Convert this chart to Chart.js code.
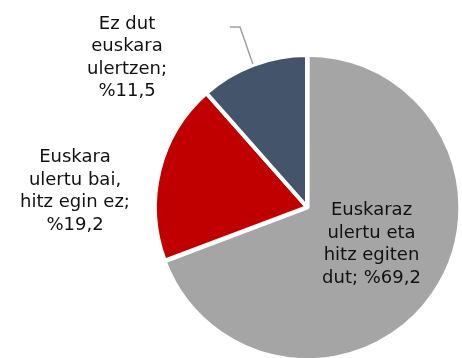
<!DOCTYPE html>
<html>
<head>
<meta charset="utf-8">
<script src="https://cdn.jsdelivr.net/npm/chart.js@4.4.1/dist/chart.umd.min.js"></script>
<style>
    html, body { margin: 0; padding: 0; background: #fff; }
    #wrap { width: 462px; height: 358px; }
</style>
</head>
<body>
<div id="wrap"><canvas id="pieChart" width="462" height="358"></canvas></div>
<script>
// Euskara ulertzeko eta hitz egiteko gaitasuna (%)
const categories = [
    'Euskaraz ulertu eta hitz egiten dut',
    'Euskara ulertu bai, hitz egin ez',
    'Ez dut euskara ulertzen'
];
const shares = [69.2, 19.2, 11.5];
const sliceColors = ['#a5a5a5', '#c00000', '#44546a'];

// where each label block sits, relative to the pie centre (first baseline)
const labelPlaces = [
    { dx: 64.5, dy: 8, maxWidth: 112 },
    { dx: -232, dy: -45, maxWidth: 122 },
    { dx: -180, dy: -178.5, maxWidth: 92 }
];
const lineHeight = 22.5;

function wrapText(ctx, text, maxWidth) {
    const words = text.split(' ');
    const lines = [];
    let line = '';
    words.forEach(w => {
        const test = line ? line + ' ' + w : w;
        if (line && ctx.measureText(test).width > maxWidth) {
            lines.push(line);
            line = w;
        } else {
            line = test;
        }
    });
    if (line) lines.push(line);
    return lines;
}

// Draw the category labels and the leader line of the smallest slice
const sliceLabels = {
    id: 'sliceLabels',
    afterDatasetsDraw(chart) {
        const ctx = chart.ctx;
        const arcs = chart.getDatasetMeta(0).data;
        ctx.save();
        ctx.font = '18px "DejaVu Sans", Verdana, sans-serif';
        ctx.fillStyle = '#111111';
        ctx.textAlign = 'center';
        ctx.textBaseline = 'alphabetic';

        arcs.forEach((arc, i) => {
            const place = labelPlaces[i];
            const text = categories[i] + '; %' + shares[i].toFixed(1).replace('.', ',');
            const lines = wrapText(ctx, text, place.maxWidth);
            lines.forEach((l, k) => {
                ctx.fillText(l, arc.x + place.dx, arc.y + place.dy + k * lineHeight);
            });
        });

        // leader line from the label to the small slice
        const small = arcs[2];
        const mid = (small.startAngle + small.endAngle) / 2;
        const r = small.outerRadius + 1;
        ctx.strokeStyle = '#a0a0a0';
        ctx.lineWidth = 1.5;
        ctx.beginPath();
        ctx.moveTo(small.x - 77, small.y - 180);
        ctx.lineTo(small.x - 67, small.y - 180);
        ctx.lineTo(small.x + Math.cos(mid) * r, small.y + Math.sin(mid) * r);
        ctx.stroke();
        ctx.restore();
    }
};

new Chart(document.getElementById('pieChart'), {
    type: 'pie',
    data: {
        labels: categories,
        datasets: [{
            data: shares,
            backgroundColor: sliceColors,
            borderColor: '#ffffff',
            borderWidth: 4,
            offset: [3, 0, 0],
            hoverOffset: 0
        }]
    },
    options: {
        responsive: false,
        devicePixelRatio: 1,
        animation: false,
        radius: 152,
        layout: { padding: { left: 152, right: 0, top: 56, bottom: 0 } },
        plugins: {
            legend: { display: false },
            tooltip: { enabled: false }
        }
    },
    plugins: [sliceLabels]
});
</script>
</body>
</html>
